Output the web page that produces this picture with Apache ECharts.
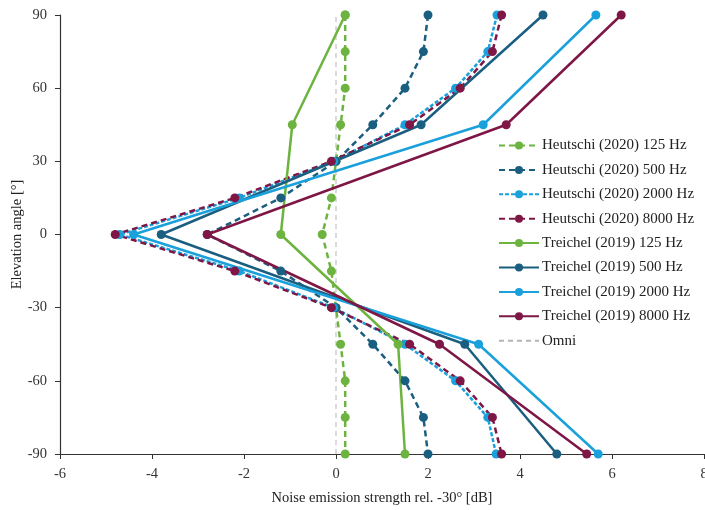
<!DOCTYPE html>
<html>
<head>
<meta charset="utf-8">
<script src="https://cdn.jsdelivr.net/npm/echarts@6/dist/echarts.min.js"></script>
<style>
  html, body { margin: 0; padding: 0; background: #fff; }
  #chart { width: 705px; height: 510px; }
</style>
</head>
<body>
<div id="chart"></div>
<script>
// elevation angles
var anglesH = [90, 75, 60, 45, 30, 15, 0, -15, -30, -45, -60, -75, -90];
var anglesT = [90, 45, 0, -45, -90];

// Heutschi (2020), dB rel. -30°
var h125 = [0.2, 0.2, 0.2, 0.1, 0, -0.1, -0.3, -0.1, 0, 0.1, 0.2, 0.2, 0.2];
var h500 = [2.0, 1.9, 1.5, 0.8, 0, -1.2, -2.8, -1.2, 0, 0.8, 1.5, 1.9, 2.0];
var h2000 = [3.5, 3.3, 2.6, 1.5, -0.05, -2.1, -4.7, -2.1, -0.05, 1.5, 2.6, 3.3, 3.48];
var h8000 = [3.6, 3.4, 2.7, 1.6, -0.1, -2.2, -4.8, -2.2, -0.1, 1.6, 2.7, 3.4, 3.6];

// Treichel (2019)
var t125 = [0.2, -0.95, -1.2, 1.35, 1.5];
var t500 = [4.5, 1.85, -3.8, 2.8, 4.8];
var t2000 = [5.65, 3.2, -4.4, 3.1, 5.7];
var t8000 = [6.2, 3.7, -2.8, 2.25, 5.45];

// omni reference
var omniX = [0, 0];
var omniY = [-90, 90];

var cGreen = '#6db33f', cTeal = '#1b5f80', cBlue = '#1aa0da', cRed = '#7e1646';
var font = 'Liberation Serif';

function pairs(xs, ys) {
    return xs.map(function (v, i) { return [v, ys[i]]; });
}

function mk(name, xs, ys, color, dash) {
    return {
        name: name,
        type: 'line',
        data: pairs(xs, ys),
        symbol: 'circle',
        symbolSize: 9,
        color: color,
        lineStyle: { color: color, width: 2.5, type: dash },
        itemStyle: { color: color },
        animation: false
    };
}

var chart = echarts.init(document.getElementById('chart'));
chart.setOption({
    animation: false,
    textStyle: { fontFamily: font },
    grid: { left: 60, right: 1, top: 15, bottom: 56, containLabel: false, outerBoundsMode: 'none' },
    legend: {
        orient: 'vertical',
        left: 498,
        top: 138,
        padding: 0,
        itemWidth: 40,
        itemHeight: 10,
        itemGap: 9.4,
        textStyle: { fontFamily: font, fontSize: 15, color: '#222', padding: [0, 0, 0, -2] },
        data: ['Heutschi (2020) 125 Hz', 'Heutschi (2020) 500 Hz', 'Heutschi (2020) 2000 Hz',
            'Heutschi (2020) 8000 Hz', 'Treichel (2019) 125 Hz', 'Treichel (2019) 500 Hz',
            'Treichel (2019) 2000 Hz', 'Treichel (2019) 8000 Hz',
            { name: 'Omni', itemStyle: { opacity: 0 } }]
    },
    xAxis: {
        type: 'value',
        min: -6, max: 8, interval: 2,
        name: 'Noise emission strength rel. -30° [dB]',
        nameLocation: 'middle',
        nameGap: 37,
        nameTextStyle: { fontFamily: font, fontSize: 14.5, color: '#222' },
        axisLine: { onZero: false, lineStyle: { color: '#333', width: 1.2 } },
        axisTick: { inside: false, length: 5, lineStyle: { color: '#333' } },
        axisLabel: { fontFamily: font, fontSize: 14.5, color: '#333', margin: 13 },
        splitLine: { show: false }
    },
    yAxis: {
        type: 'value',
        min: -90, max: 90, interval: 30,
        name: 'Elevation angle [°]',
        nameLocation: 'middle',
        nameGap: 35,
        nameMoveOverlap: false,
        nameTextStyle: { fontFamily: font, fontSize: 14.5, color: '#222' },
        axisLine: { show: true, onZero: false, lineStyle: { color: '#333', width: 1.2 } },
        axisTick: { show: true, inside: false, length: 5, lineStyle: { color: '#333' } },
        axisLabel: { fontFamily: font, fontSize: 14.5, color: '#333', margin: 13 },
        splitLine: { show: false }
    },
    series: [
        {
            name: 'Omni',
            type: 'line',
            data: pairs(omniX, omniY),
            symbol: 'none',
            color: '#b5b5b5',
            lineStyle: { color: '#b5b5b5', width: 1, type: [5, 4] },
            z: 1
        },
        mk('Heutschi (2020) 125 Hz', h125, anglesH, cGreen, [6, 4]),
        mk('Heutschi (2020) 500 Hz', h500, anglesH, cTeal, [6, 4]),
        mk('Heutschi (2020) 2000 Hz', h2000, anglesH, cBlue, [4, 2]),
        mk('Heutschi (2020) 8000 Hz', h8000, anglesH, cRed, [6, 4]),
        mk('Treichel (2019) 125 Hz', t125, anglesT, cGreen, 'solid'),
        mk('Treichel (2019) 500 Hz', t500, anglesT, cTeal, 'solid'),
        mk('Treichel (2019) 2000 Hz', t2000, anglesT, cBlue, 'solid'),
        mk('Treichel (2019) 8000 Hz', t8000, anglesT, cRed, 'solid')
    ]
});

window.addEventListener('resize', function () {
    chart.resize();
});
</script>
</body>
</html>
